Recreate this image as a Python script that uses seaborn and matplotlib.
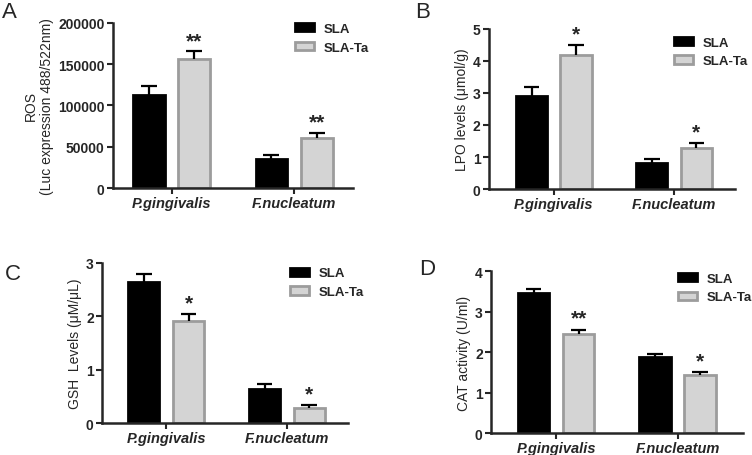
import pandas as pd
import numpy as np
import matplotlib
matplotlib.use('Agg')
import matplotlib.pyplot as plt
import seaborn as sns

sns.set_style('ticks')
plt.rcParams['font.family'] = ['Liberation Sans', 'DejaVu Sans']

# Data
groups = ['P.gingivalis', 'F.nucleatum']
surfaces = ['SLA', 'SLA-Ta']

ros_sla = [113000, 35000]
ros_sla_err = [10000, 4500]
ros_ta = [156000, 60500]
ros_ta_err = [9500, 6000]
ros_stars = ['**', '**']

lpo_sla = [2.90, 0.80]
lpo_sla_err = [0.27, 0.14]
lpo_ta = [4.17, 1.28]
lpo_ta_err = [0.32, 0.17]
lpo_stars = ['*', '*']

gsh_sla = [2.63, 0.63]
gsh_sla_err = [0.16, 0.10]
gsh_ta = [1.90, 0.29]
gsh_ta_err = [0.14, 0.05]
gsh_stars = ['*', '*']

cat_sla = [3.46, 1.88]
cat_sla_err = [0.10, 0.08]
cat_ta = [2.45, 1.44]
cat_ta_err = [0.11, 0.07]
cat_stars = ['**', '*']

fill = {'SLA': 'black', 'SLA-Ta': '#d4d4d4'}
edge = {'SLA': 'black', 'SLA-Ta': '#9c9c9c'}


def panel(ax, sla, sla_err, ta, ta_err, stars, ylim, yticks, ylabel, xlim, star_pad, leg_x, leg_y):
    df = pd.DataFrame({
        'group': groups * 2,
        'surface': ['SLA'] * 2 + ['SLA-Ta'] * 2,
        'value': sla + ta,
    })
    sns.barplot(data=df, x='group', y='value', hue='surface', hue_order=surfaces,
                palette=fill, width=0.74, gap=0.3, errorbar=None, ax=ax,
                saturation=1, legend=False)
    errs = [sla_err, ta_err]
    for i, cont in enumerate(ax.containers):
        s = surfaces[i]
        for j, bar in enumerate(cont):
            bar.set_edgecolor(edge[s])
            bar.set_linewidth(2)
            xc = bar.get_x() + bar.get_width() / 2
            h = bar.get_height()
            e = errs[i][j]
            ax.vlines(xc, h, h + e, color='black', lw=1.6, zorder=1)
            ax.hlines(h + e, xc - 0.065, xc + 0.065, color='black', lw=1.6)
            if i == 1:
                ax.text(xc, h + e + star_pad, stars[j], ha='center', va='bottom',
                        fontsize=15, fontweight='bold')
    ax.set_xlim(xlim)
    ax.set_ylim(ylim)
    ax.set_yticks(yticks)
    ax.set_xlabel('')
    ax.set_ylabel(ylabel, fontsize=10, labelpad=3)
    ax.set_xticks([0, 1])
    ax.set_xticklabels(groups, fontsize=10.5, fontweight='bold', fontstyle='italic')
    for lab in ax.get_yticklabels():
        lab.set_fontsize(10)
        lab.set_fontweight('bold')
    for sp in ['left', 'bottom']:
        ax.spines[sp].set_linewidth(1.8)
    sns.despine(ax=ax)
    ax.tick_params(width=1.5, length=4, pad=2)
    handles = [plt.Rectangle((0, 0), 1, 1, facecolor=fill[s], edgecolor=edge[s], lw=2)
               for s in surfaces]
    ax.legend(handles, surfaces, loc='upper left', bbox_to_anchor=(leg_x, leg_y),
              frameon=False, prop={'size': 9.5, 'weight': 'bold'},
              handlelength=1.45, handleheight=0.6, handletextpad=0.75, labelspacing=0.5,
              borderaxespad=0, borderpad=0)


fig = plt.figure(figsize=(7.52, 4.56), dpi=100)
axA = fig.add_axes([0.150, 0.5855, 0.319, 0.362])
axB = fig.add_axes([0.650, 0.583, 0.328, 0.352])
axC = fig.add_axes([0.1356, 0.070, 0.327, 0.352])
axD = fig.add_axes([0.653, 0.048, 0.335, 0.355])

panel(axA, ros_sla, ros_sla_err, ros_ta, ros_ta_err, ros_stars, (0, 200000),
      [0, 50000, 100000, 150000, 200000], 'ROS\n(Luc expression 488/522nm)',
      (-0.48, 1.478), 1500, 0.76, 1.0)
panel(axB, lpo_sla, lpo_sla_err, lpo_ta, lpo_ta_err, lpo_stars, (0, 5),
      [0, 1, 2, 3, 4, 5], 'LPO levels (\u03bcmol/g)', (-0.54, 1.51), 0.05, 0.75, 0.95)
panel(axC, gsh_sla, gsh_sla_err, gsh_ta, gsh_ta_err, gsh_stars, (0, 3),
      [0, 1, 2, 3], 'GSH  Levels (\u03bcM/\u03bcL)', (-0.532, 1.505), 0.03, 0.764, 0.97)
panel(axD, cat_sla, cat_sla_err, cat_ta, cat_ta_err, cat_stars, (0, 4),
      [0, 1, 2, 3, 4], 'CAT activity (U/ml)', (-0.534, 1.536), 0.04, 0.742, 0.99)

for lbl, (x, y) in zip('ABCD', [(0.002, 0.995), (0.552, 0.995), (0.006, 0.422), (0.557, 0.432)]):
    fig.text(x, y, lbl, fontsize=16, ha='left', va='top')

fig.savefig('out.png', dpi=100)
